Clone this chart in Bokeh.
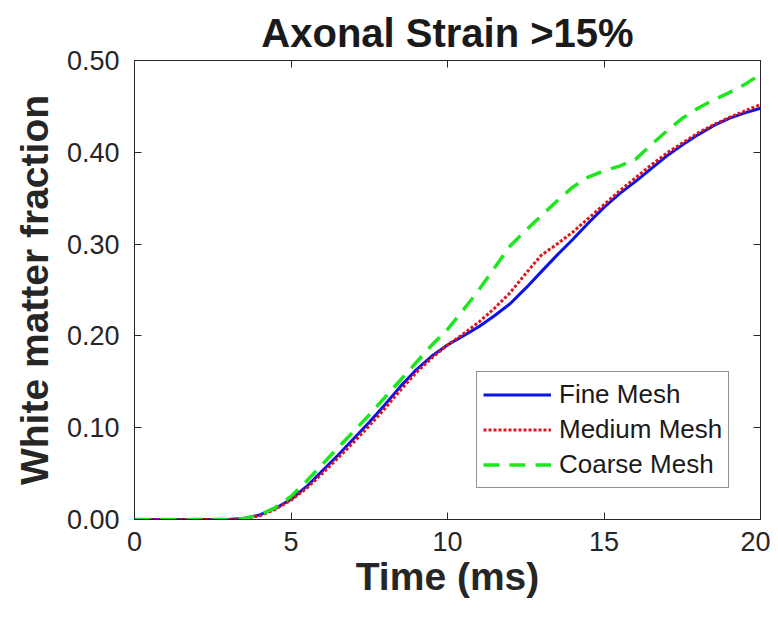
from bokeh.plotting import figure
from bokeh.models import LinearAxis, FixedTicker, Legend, LegendItem, Range1d, CustomJSTickFormatter
from bokeh.embed import file_html
from bokeh.resources import INLINE

time_ms = [0, 1, 2, 3, 3.5, 4, 4.5, 5, 5.5, 6, 6.5, 7, 7.5, 8, 8.5, 9, 9.5, 10, 10.5, 11, 11.5,
           12, 12.5, 13, 13.5, 14, 14.5, 15, 15.5, 16, 16.5, 17, 17.5, 18, 18.5, 19, 19.5, 20]
fine_mesh = [0, 0, 0, 0, 0.001, 0.005, 0.012, 0.022, 0.036, 0.053, 0.070, 0.088, 0.106, 0.125, 0.145,
             0.163, 0.178, 0.190, 0.200, 0.210, 0.222, 0.235, 0.252, 0.270, 0.288, 0.305, 0.323, 0.340,
             0.355, 0.368, 0.382, 0.396, 0.408, 0.419, 0.429, 0.437, 0.443, 0.448]
medium_mesh = [0, 0, 0, 0, 0.001, 0.004, 0.011, 0.021, 0.034, 0.050, 0.067, 0.084, 0.102, 0.121, 0.141,
               0.160, 0.176, 0.190, 0.202, 0.215, 0.230, 0.247, 0.268, 0.288, 0.300, 0.313, 0.328, 0.343,
               0.358, 0.372, 0.386, 0.399, 0.410, 0.421, 0.430, 0.438, 0.445, 0.452]
coarse_mesh = [0, 0, 0, 0, 0.001, 0.005, 0.013, 0.025, 0.042, 0.060, 0.078, 0.096, 0.114, 0.133, 0.152,
               0.171, 0.190, 0.207, 0.228, 0.250, 0.274, 0.298, 0.315, 0.331, 0.347, 0.362, 0.373, 0.380,
               0.385, 0.392, 0.408, 0.423, 0.437, 0.448, 0.457, 0.465, 0.474, 0.485]
x_ticks = [0, 5, 10, 15, 20]
y_ticks = [0.0, 0.1, 0.2, 0.3, 0.4, 0.5]
series_names = ["Fine Mesh", "Medium Mesh", "Coarse Mesh"]

FONT = "Liberation Sans"

p = figure(width=770, height=607, output_backend="svg", toolbar_location=None,
           x_range=Range1d(0, 20), y_range=Range1d(0, 0.5),
           min_border_left=134, min_border_right=10, min_border_top=60, min_border_bottom=88,
           title="Axonal Strain >15%")
p.background_fill_color = "white"
p.border_fill_color = "white"
p.outline_line_color = "#262626"
p.outline_line_width = 1
p.grid.visible = False

p.title.text_font = FONT
p.title.text_font_size = "40px"
p.title.text_font_style = "bold"
p.title.align = "center"
p.title.text_color = "#1a1a1a"
p.title.standoff = 11

def style_axis(ax, show_labels=True, ticks=None):
    ax.major_tick_in = 7
    ax.major_tick_out = 0
    ax.minor_tick_in = 0
    ax.minor_tick_out = 0
    ax.axis_line_color = "#262626"
    ax.major_tick_line_color = "#262626"
    ax.major_label_text_font = FONT
    ax.major_label_text_color = "#262626"
    if show_labels:
        ax.major_label_text_font_size = "27px"
    else:
        ax.major_label_overrides = {t: "" for t in ticks}
        ax.major_label_text_font_size = "1px"
        ax.major_label_standoff = 0

p.xaxis.ticker = FixedTicker(ticks=x_ticks)
p.yaxis.ticker = FixedTicker(ticks=y_ticks)
p.yaxis.formatter = CustomJSTickFormatter(code="return tick.toFixed(2);")
style_axis(p.xaxis[0])
style_axis(p.yaxis[0])
p.xaxis.axis_label = "Time (ms)"
p.yaxis.axis_label = "White matter fraction"
for ax in (p.xaxis[0], p.yaxis[0]):
    ax.axis_label_text_font = FONT
    ax.axis_label_text_font_size = "39px"
    ax.axis_label_text_font_style = "bold"
    ax.axis_label_text_color = "#262626"
p.xaxis.major_label_standoff = 12
p.xaxis.axis_label_standoff = 1
p.yaxis.major_label_standoff = 15
p.yaxis.axis_label_standoff = 8

top_ax = LinearAxis(ticker=FixedTicker(ticks=x_ticks))
style_axis(top_ax, False, x_ticks)
p.add_layout(top_ax, "above")
right_ax = LinearAxis(ticker=FixedTicker(ticks=y_ticks))
style_axis(right_ax, False, y_ticks)
p.add_layout(right_ax, "right")

r_fine = p.line(time_ms, fine_mesh, line_color="#0a14e6", line_width=3)
r_med = p.line(time_ms, medium_mesh, line_color="#e0141e", line_width=3, line_dash="3 2")
r_coarse = p.line(time_ms, coarse_mesh, line_color="#1ee61e", line_width=3.5, line_dash="16 10")

legend = Legend(items=[LegendItem(label=series_names[0], renderers=[r_fine]),
                       LegendItem(label=series_names[1], renderers=[r_med]),
                       LegendItem(label=series_names[2], renderers=[r_coarse])],
                location=(342, 31))
legend.label_text_font = FONT
legend.label_text_font_size = "26px"
legend.label_text_color = "#1a1a1a"
legend.glyph_width = 68
legend.glyph_height = 33
legend.label_height = 33
legend.spacing = 2
legend.padding = 6
legend.margin = 0
legend.label_standoff = 8
legend.border_line_color = "#262626"
legend.border_line_width = 1
legend.background_fill_alpha = 1
p.add_layout(legend, "center")

open("out.html", "w").write(file_html(p, INLINE))
